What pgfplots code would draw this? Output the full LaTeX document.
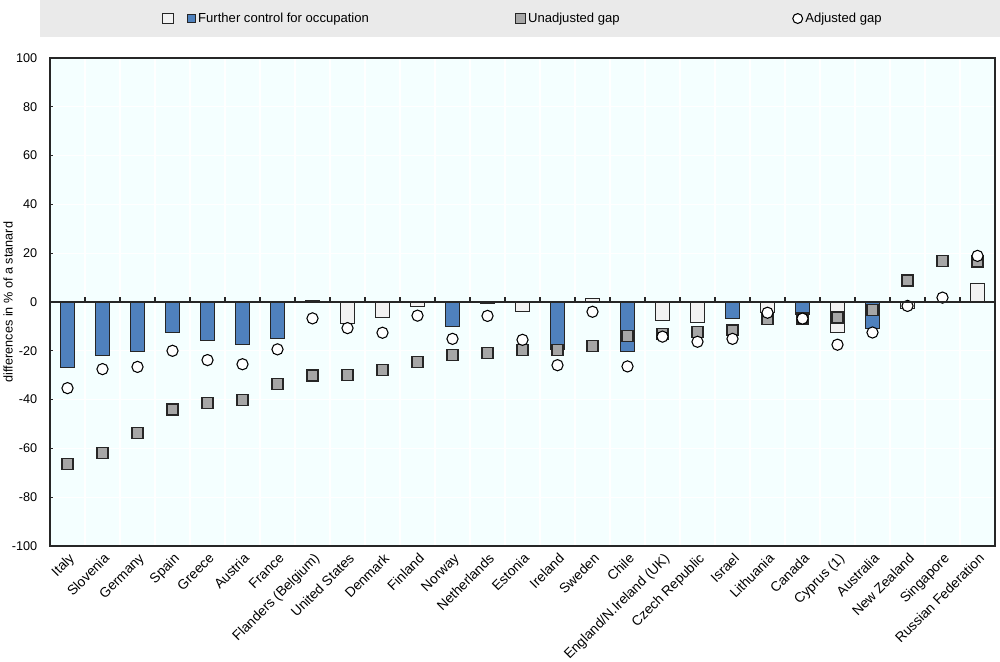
\documentclass[border=0pt]{standalone}
\usepackage{fontspec}
\setmainfont{Liberation Sans}
\usepackage{pgfplots}
\usepackage{pgfplotstable}
\pgfplotsset{compat=1.18}
\definecolor{oblue}{HTML}{4F81BD}
\definecolor{owhite}{HTML}{F2F2F2}
\definecolor{ogray}{HTML}{A6A6A6}
\definecolor{bgc}{HTML}{F4FFFF}
\definecolor{legbg}{HTML}{EAEAEA}
\definecolor{edge}{HTML}{262626}

\pgfplotsset{
  bigsq/.style={legend image code/.code={\draw[##1] (0pt,-3.9pt) rectangle (7.8pt,3.9pt);}},
  smallsq/.style={legend image code/.code={\draw[##1] (0pt,-3pt) rectangle (6pt,3pt);}},
  markleg/.style={legend image code/.code={\draw[##1, mark size=3.7pt] plot coordinates {(3.7pt,0pt)};}},
}

\pgfplotstableread{
x y
0 -27.0
1 -21.9
2 -20.4
3 -12.6
4 -15.7
5 -17.4
6 -15.1
11 -10.1
14 -19.4
16 -20.3
19 -6.8
21 -4.9
23 -10.8
}\bluebars

\pgfplotstableread{
x y
7 0.5
8 -8.6
9 -6.2
10 -1.9
12 -0.6
13 -3.8
15 1.6
17 -7.4
18 -8.5
20 -4.1
22 -12.3
24 -2.7
26 7.8
}\whitebars

\pgfplotstableread{
x unadj adj
0 -66.4 -35.3
1 -61.9 -27.5
2 -53.7 -26.6
3 -44.1 -20.0
4 -41.3 -23.8
5 -40.1 -25.5
6 -33.7 -19.4
7 -30.1 -6.7
8 -29.8 -10.7
9 -27.8 -12.6
10 -24.6 -5.6
11 -21.8 -15.1
12 -20.9 -5.7
13 -19.6 -15.5
14 -19.6 -25.9
15 -18.1 -4.0
16 -14.0 -26.4
17 -13.0 -14.2
18 -12.2 -16.3
19 -11.6 -15.1
20 -7.1 -4.4
21 -6.8 -6.8
22 -6.4 -17.5
23 -3.4 -12.5
24 8.8 -1.6
25 16.7 1.8
26 16.6 18.9
}\points

\begin{document}
\begin{tikzpicture}[font=\fontsize{9.5}{11}\selectfont]
\fill[legbg] (-7.5pt,381.75pt) rectangle (712.5pt,409.5pt);
\begin{axis}[
  at={(0,0)}, anchor=south west,
  scale only axis, width=708.75pt, height=366pt,
  xmin=-0.5, xmax=26.5, ymin=-100, ymax=100,
  axis background/.style={fill=bgc},
  axis line style={edge, line width=1pt},
  xtick={0,...,26},
  xticklabels={Italy,Slovenia,Germany,Spain,Greece,Austria,France,Flanders (Belgium),United States,Denmark,Finland,Norway,Netherlands,Estonia,Ireland,Sweden,Chile,England/N.Ireland (UK),Czech Republic,Israel,Lithuania,Canada,Cyprus (1),Australia,New Zealand,Singapore,Russian Federation},
  xticklabel style={rotate=45, anchor=north east, inner sep=1pt, xshift=-2pt, yshift=-2.5pt, font=\fontsize{10.3}{12}\selectfont},
  x tick style={draw=none},
  minor xtick={-0.5,0.5,...,26.5},
  minor x tick style={draw=none},
  xminorgrids,
  ytick={-100,-80,...,100},
  ytick pos=left, ytick align=inside,
  y tick style={edge, line width=0.8pt},
  major tick length=2.5pt,
  ymajorgrids,
  major grid style={white, line width=0.8pt},
  minor grid style={white, line width=0.8pt},
  yticklabel style={xshift=-6pt},
  /pgf/number format/assume math mode=true,
  every axis y label/.style={at={(axis description cs:-0.0444,0.5)}, rotate=90, anchor=center},
  ylabel={differences in \% of a stanard},
  legend columns=4,
  legend style={at={(axis description cs:0.1185,1.0809)}, anchor=west, draw=none, fill=none, inner sep=0pt, column sep=0pt, font=\fontsize{9.8}{11}\selectfont},
  legend cell align=left,
]
\addplot[ybar, bar width=10.5pt, bar shift=0pt, fill=owhite, draw=edge, line width=0.6pt, bigsq]
  table[x=x,y=y] {\whitebars};
\addlegendentry{\makebox[6pt][l]{}}
\addplot[ybar, bar width=10.5pt, bar shift=0pt, fill=oblue, draw=edge, line width=0.6pt, smallsq]
  table[x=x,y=y] {\bluebars};
\addlegendentry{\makebox[236pt][l]{Further control for occupation}}
\addplot[only marks, mark=square*, mark size=4.1pt, mark options={fill=ogray, draw=edge, line width=1pt}, markleg]
  table[x=x,y=unadj] {\points};
\addlegendentry{\makebox[196.5pt][l]{Unadjusted gap}}
\addplot[only marks, mark=*, mark size=4.2pt, mark options={fill=white, draw=black, line width=0.8pt}, markleg]
  table[x=x,y=adj] {\points};
\addlegendentry{Adjusted gap}
\end{axis}
\begin{axis}[
  at={(0,0)}, anchor=south west,
  scale only axis, width=708.75pt, height=366pt,
  xmin=-0.5, xmax=26.5, ymin=-100, ymax=100,
  axis x line*=middle, axis y line=none,
  x axis line style={edge, line width=1pt},
  xtick={0.5,1.5,...,25.5}, xticklabels={},
  ytick=\empty,
  xtick align=inside, major tick length=3.75pt,
  x tick style={edge, line width=0.8pt},
]
\addplot[draw=none] coordinates {(0,0)};
\end{axis}
\pgfresetboundingbox
\useasboundingbox (-37.5pt,-86.25pt) rectangle (712.5pt,409.5pt);
\end{tikzpicture}
\end{document}
